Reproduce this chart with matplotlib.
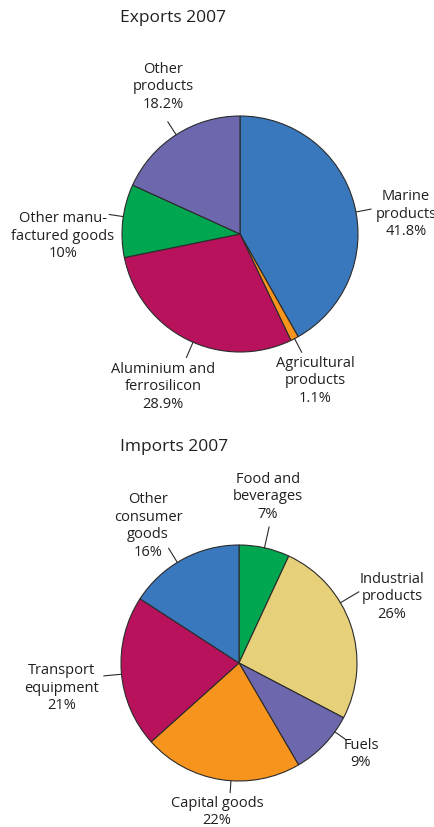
import numpy as np
import matplotlib
matplotlib.use("Agg")
import matplotlib.pyplot as plt

# Dados
exp_labels = ["Marine\nproducts", "Agricultural\nproducts", "Aluminium and\nferrosilicon",
              "Other manu-\nfactured goods", "Other\nproducts"]
exp_values = [41.8, 1.1, 28.9, 10, 18.2]
exp_pct = ["41.8%", "1.1%", "28.9%", "10%", "18.2%"]
exp_colors = ["#3a78bd", "#f7941d", "#b8125c", "#00a650", "#6d67ae"]

imp_labels = ["Food and\nbeverages", "Industrial\nproducts", "Fuels", "Capital goods",
              "Transport\nequipment", "Other\nconsumer\ngoods"]
imp_values = [7, 26, 9, 22, 21, 16]
imp_pct = ["7%", "26%", "9%", "22%", "21%", "16%"]
imp_colors = ["#00a650", "#e6d07a", "#6d67ae", "#f7941d", "#b8125c", "#3a78bd"]

# Layout (pixels, y from top)
W, H = 435, 827
R = 118
exp_center = (240, 234)
imp_center = (239, 663)
exp_text_pos = [(406, 214), (315, 381), (163, 387), (63, 236), (163, 87)]
exp_leader = [(-4, 0.13), (0, 0.13), (3, 0.14), (-2, 0.12), (0, 0.13)]   # (desvio do angulo, comprimento)
imp_text_pos = [(268, 497), (392, 597), (361, 754), (217, 812), (62, 688), (148, 526)]
imp_leader = [(0, 0.18), (12, 0.18), (8, 0.12), (5, 0.1), (1, 0.15), (3, 0.14)]

plt.rcParams['font.family'] = ['Open Sans', 'DejaVu Sans']
fig = plt.figure(figsize=(W / 100, H / 100), dpi=100)
ax = fig.add_axes([0, 0, 1, 1])


def desenha(values, colors, labels, pcts, center, text_pos, leader):
    cx, cy = center[0], H - center[1]
    wedges, _ = ax.pie(values, colors=colors, startangle=90, counterclock=False,
                       center=(cx, cy), radius=R,
                       wedgeprops=dict(edgecolor="#2b2b2b", linewidth=0.8))
    for w, lab, pct, (tx, ty), (off, ln) in zip(wedges, labels, pcts, text_pos, leader):
        ang = np.deg2rad((w.theta1 + w.theta2) / 2 + off)
        x0, y0 = cx + R * np.cos(ang), cy + R * np.sin(ang)
        x1, y1 = cx + R * (1 + ln) * np.cos(ang), cy + R * (1 + ln) * np.sin(ang)
        ax.plot([x0, x1], [y0, y1], color="#2b2b2b", linewidth=0.8)
        ax.text(tx, H - ty, lab + "\n" + pct, ha="center", va="center",
                fontsize=10.5, linespacing=1.25, color="#231f20")


desenha(exp_values, exp_colors, exp_labels, exp_pct, exp_center, exp_text_pos, exp_leader)
desenha(imp_values, imp_colors, imp_labels, imp_pct, imp_center, imp_text_pos, imp_leader)

ax.text(120, H - 18, "Exports 2007", ha="left", va="center", fontsize=12.5, color="#231f20")
ax.text(120, H - 447, "Imports 2007", ha="left", va="center", fontsize=12.5, color="#231f20")

ax.set_xlim(0, W)
ax.set_ylim(0, H)
ax.set_aspect("equal")
ax.axis("off")

plt.savefig("out.png", dpi=100)
